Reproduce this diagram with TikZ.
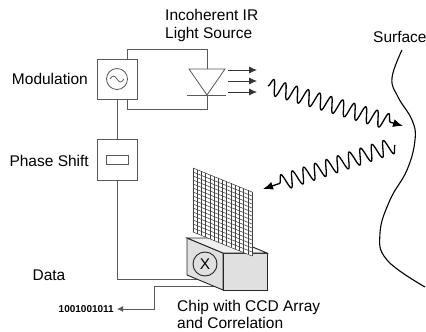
\documentclass[tikz,border=0pt]{standalone}
\usepackage{fontspec}
\setmainfont{Liberation Sans}
\usetikzlibrary{arrows.meta}
\usetikzlibrary{decorations.pathmorphing}

\tikzset{
  wire/.style={draw=black!65, line width=0.8pt},
  unit/.style={wire, fill=white, minimum size=40pt, inner sep=0pt},
  lbl/.style={font=\fontsize{15.5}{18}\selectfont, inner sep=0pt},
  edge/.style={draw=black!85, line width=0.9pt},
  ccd/.style={draw=black!75, line width=0.55pt},
  wave/.style={line width=1.3pt, line join=round, decorate,
    decoration={snake, segment length=12pt, amplitude=8pt, post length=13pt},
    -{Latex[length=10pt,width=8pt]}},
}

\begin{document}
\begin{tikzpicture}[x=1pt, y=-1pt]
  \useasboundingbox (0,0) rectangle (426,332);

  % Modulation
  \node[unit] (mod) at (117,79) {};
  \node[circle, wire, minimum size=21pt, inner sep=0pt] (osc) at (mod) {};
  \draw[wire] ([xshift=-7]osc.center) sin ++(3.5,-3) cos ++(3.5,3) sin ++(3.5,3) cos ++(3.5,-3);
  \node[lbl, anchor=east] (modlbl) at (88,79) {Modulation};

  % Phase Shift
  \node[unit, minimum height=41pt] (ps) at (117,159.5) {};
  \node[wire, minimum width=22pt, minimum height=9pt, inner sep=0pt] (psym) at (ps) {};
  \node[lbl, anchor=east] (pslbl) at (89,161) {Phase Shift};
  \draw[wire] (mod) -- (ps);

  % Light Source
  \coordinate (dtop) at (207,69);
  \coordinate (dbot) at (207,95);
  \draw[wire] (189,69) -- (225,69) -- (dbot) -- cycle;
  \draw[wire] (187,95) -- (226,95);
  \draw[wire] ([xshift=-10]mod.north east) -- ++(0,-9) -| (dtop);
  \draw[wire] ([xshift=-10]mod.south east) -- ++(0,10) -| (dbot);
  \node[lbl, anchor=north west, align=left] (srclbl) at (165,9) {Incoherent IR\\Light Source};
  \foreach \y [count=\k] in {70,81,92} {
    \coordinate (ray\k) at (228,\y);
    \draw[wire, draw=black!80, -{Latex[length=8pt,width=7pt]}] (ray\k) -- ++(29,0);
  }

  % Surface
  \draw[line width=1.1pt] plot[smooth, tension=0.7] coordinates {(402,50) (392,78) (398,97) (412,120) (415,140) (407,170) (390,200) (380,233) (387,260) (425,287)};
  \node[lbl, anchor=west] (surflbl) at (373,37) {Surface};

  % Waves
  \coordinate (w1a) at (268,86);
  \coordinate (w1b) at (403,126);
  \draw[wave] (w1a) -- (w1b);
  \coordinate (w2a) at (395,145);
  \coordinate (w2b) at (263,189);
  \draw[wave] (w2a) -- (w2b);

  % Chip wiring
  \coordinate (chipin) at (200,279);
  \coordinate (chipout) at (215,286);
  \draw[wire] (ps) |- (chipin);
  \node[lbl, font=\bfseries\fontsize{10}{12}\selectfont, anchor=east, inner xsep=3pt] (bits) at (117,309) {1001001011};
  \draw[wire, -{Latex[length=6pt,width=6pt]}] (chipout) -- (154,286) |- (bits);
  \node[lbl] (datalbl) at (49,275) {Data};

  % Chip
  \filldraw[edge, fill=black!12] (187,238) -- (223,253) -- (223,290) -- (187,275) -- cycle;
  \filldraw[edge, fill=black!12] (223,253) rectangle (267,290);
  \filldraw[edge, fill=black!6] (187,238) -- (231,238) -- (267,253) -- (223,253) -- cycle;
  \node[lbl, circle, edge, minimum size=24pt] (mult) at (205,264) {X};
  \node[lbl, anchor=north west, align=left, font=\fontsize{15.5}{17}\selectfont] (chiplbl) at (177,300) {Chip with CCD Array\\and Correlation};

  % CCD Array
  \begin{scope}[shift={(193,168)}, x={(4.214pt,-1.714pt)}, y={(0pt,-4pt)}]
    \fill[white] (0,0) -- (14,0) -- (14,16) -- (0,16) -- cycle;
    \foreach \i in {0,...,14} \draw[ccd] (\i,0) -- (\i,16);
    \foreach \j in {0,...,16} \draw[ccd] (0,\j) -- (14,\j);
  \end{scope}
\end{tikzpicture}
\end{document}
